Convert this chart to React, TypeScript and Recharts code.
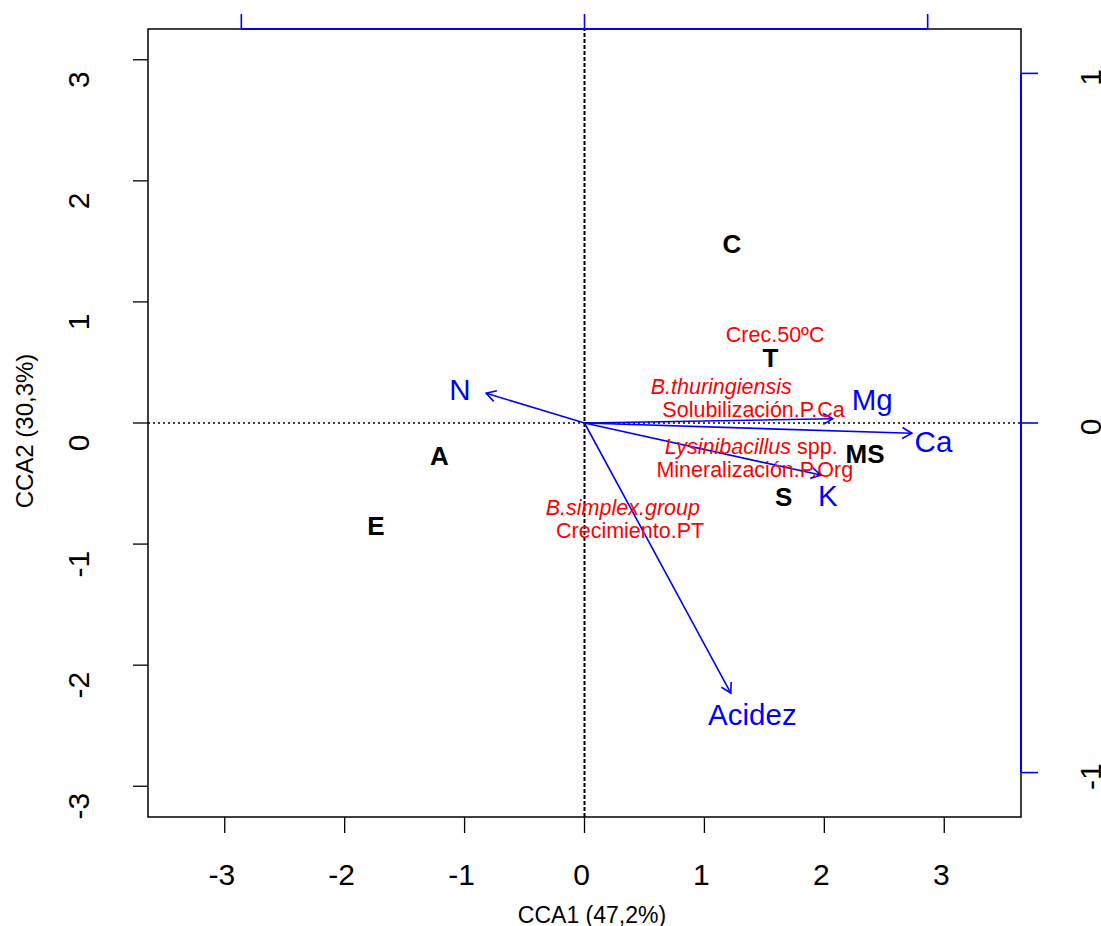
import { ScatterChart, Scatter, XAxis, YAxis, ReferenceLine, ReferenceArea } from "recharts";

// site scores (CCA1, CCA2)
const siteNames = ["C", "T", "MS", "S", "A", "E"];
const siteX = [1.23, 1.55, 2.34, 1.66, -1.21, -1.74];
const siteY = [1.48, 0.54, -0.26, -0.61, -0.27, -0.85];

// species / trait labels (red); italic part is the prefix given in traitItalic
const traitNames = [
  "Crec.50ºC",
  "B.thuringiensis",
  "Solubilización.P.Ca",
  "Lysinibacillus spp.",
  "Mineralización.P.Org",
  "B.simplex.group",
  "Crecimiento.PT",
];
const traitItalic = ["", "B.thuringiensis", "", "Lysinibacillus", "", "B.simplex.group", ""];
const traitX = [1.59, 1.14, 1.41, 1.39, 1.42, 0.32, 0.38];
const traitY = [0.73, 0.3, 0.11, -0.2, -0.39, -0.7, -0.89];

// environmental arrows (tips) and their labels
const envNames = ["N", "Mg", "Ca", "K", "Acidez"];
const envX = [-0.82, 2.07, 2.73, 1.97, 1.22];
const envY = [0.245, 0.035, -0.085, -0.43, -2.23];
const envLabelX = [-1.04, 2.4, 2.91, 2.03, 1.4];
const envLabelY = [0.28, 0.19, -0.15, -0.6, -2.41];

const mainTicks = [-3, -2, -1, 0, 1, 2, 3];
const envTicks = [-1, 0, 1];
const xLimits = [-3.64, 3.64];
const yLimits = [-3.254, 3.254];
const envXLimits = [-1.272, 1.272];
const envYLimits = [-1.127, 1.127];

const FONT = "'Liberation Sans', Arial, Helvetica, sans-serif";
const BLUE = "#0000ff";
const RED = "#ff0000";

const sites = siteNames.map((name, i) => ({ x: siteX[i], y: siteY[i], name }));
const traits = traitNames.map((name, i) => ({ x: traitX[i], y: traitY[i], name, italic: traitItalic[i] }));
const envLabels = envNames.map((name, i) => ({ x: envLabelX[i], y: envLabelY[i], name }));
// invisible anchors so the secondary (biplot) axes own some data
const envFrame = envTicks.map((t) => ({ ex: t, ey: t }));

function Arrow(props: any) {
  const { x1, y1, x2, y2 } = props;
  const ang = Math.atan2(y2 - y1, x2 - x1);
  const len = 11;
  const spread = Math.PI / 6;
  const ax = x2 - len * Math.cos(ang - spread);
  const ay = y2 - len * Math.sin(ang - spread);
  const bx = x2 - len * Math.cos(ang + spread);
  const by = y2 - len * Math.sin(ang + spread);
  return (
    <g>
      <line x1={x1} y1={y1} x2={x2} y2={y2} stroke={BLUE} strokeWidth={1.6} />
      <polyline points={`${ax},${ay} ${x2},${y2} ${bx},${by}`} fill="none" stroke={BLUE} strokeWidth={1.6} />
    </g>
  );
}

const BlueLine = (props: any) => (
  <line x1={props.x1} y1={props.y1} x2={props.x2} y2={props.y2} stroke={BLUE} strokeWidth={2} />
);

const BottomTick = (p: any) => (
  <text x={p.x - 3} y={885} textAnchor="middle" fontSize={30} fontFamily={FONT} fill="#000">
    {p.payload.value}
  </text>
);

const LeftTick = (p: any) => (
  <text
    transform={`translate(89, ${p.y + 20}) rotate(-90)`}
    textAnchor="middle"
    fontSize={30}
    fontFamily={FONT}
    fill="#000"
  >
    {p.payload.value}
  </text>
);

const RightTick = (p: any) => (
  <text
    transform={`translate(1101, ${p.y + 4}) rotate(-90)`}
    textAnchor="middle"
    fontSize={30}
    fontFamily={FONT}
    fill="#000"
  >
    {p.payload.value}
  </text>
);

const EmptyTick = () => <g />;

const SiteLabel = (p: any) => (
  <text x={p.cx} y={p.cy} textAnchor="middle" dominantBaseline="central" fontSize={26} fontWeight="bold" fontFamily={FONT} fill="#000">
    {p.payload.name}
  </text>
);

const TraitLabel = (p: any) => {
  const it = p.payload.italic as string;
  const rest = (p.payload.name as string).slice(it.length);
  return (
    <text x={p.cx} y={p.cy} textAnchor="middle" dominantBaseline="central" fontSize={21.5} fontFamily={FONT} fill={RED}>
      {it ? <tspan fontStyle="italic">{it}</tspan> : null}
      {rest ? <tspan>{rest}</tspan> : null}
    </text>
  );
};

const EnvLabel = (p: any) => (
  <text x={p.cx} y={p.cy} textAnchor="middle" dominantBaseline="central" fontSize={29.5} fontFamily={FONT} fill={BLUE}>
    {p.payload.name}
  </text>
);

export default function App() {
  return (
    <div style={{ position: "absolute", left: 0, top: 0, background: "#fff", fontFamily: FONT }}>
      <ScatterChart width={1101} height={926} margin={{ top: 0, right: 0, bottom: 0, left: 0 }}>
        <XAxis
          xAxisId="b"
          type="number"
          dataKey="x"
          orientation="bottom"
          domain={xLimits}
          ticks={mainTicks}
          allowDataOverflow
          height={109}
          axisLine={false}
          tickSize={16}
          tickLine={{ stroke: "#000", strokeWidth: 1.3 }}
          tick={<BottomTick />}
          label={() => (
            <text x={592} y={923} textAnchor="middle" fontSize={23} fontFamily={FONT} fill="#000">
              CCA1 (47,2%)
            </text>
          )}
        />
        <XAxis
          xAxisId="t"
          type="number"
          dataKey="ex"
          orientation="top"
          domain={envXLimits}
          ticks={envTicks}
          allowDataOverflow
          height={29}
          axisLine={false}
          tickSize={15}
          tickLine={{ stroke: BLUE, strokeWidth: 1.6 }}
          tick={<EmptyTick />}
        />
        <YAxis
          yAxisId="l"
          type="number"
          dataKey="y"
          orientation="left"
          domain={yLimits}
          ticks={mainTicks}
          allowDataOverflow
          width={148}
          axisLine={false}
          tickSize={15}
          tickLine={{ stroke: "#000", strokeWidth: 1.3 }}
          tick={<LeftTick />}
          label={() => (
            <text transform="translate(33, 431) rotate(-90)" textAnchor="middle" fontSize={24} fontFamily={FONT} fill="#000">
              CCA2 (30,3%)
            </text>
          )}
        />
        <YAxis
          yAxisId="r"
          type="number"
          dataKey="ey"
          orientation="right"
          domain={envYLimits}
          ticks={envTicks}
          allowDataOverflow
          width={80}
          axisLine={false}
          tickSize={17}
          tickLine={{ stroke: BLUE, strokeWidth: 1.6 }}
          tick={<RightTick />}
        />

        <ReferenceArea
          xAxisId="b"
          yAxisId="l"
          x1={xLimits[0]}
          x2={xLimits[1]}
          y1={yLimits[0]}
          y2={yLimits[1]}
          fill="none"
          stroke="#000"
          strokeWidth={1.5}
          ifOverflow="visible"
        />
        <ReferenceLine xAxisId="b" yAxisId="l" x={0} stroke="#000" strokeWidth={2} strokeDasharray="4 2" />
        <ReferenceLine xAxisId="b" yAxisId="l" y={0} stroke="#000" strokeWidth={1.4} strokeDasharray="2 3" />

        {envNames.map((n, i) => (
          <ReferenceLine
            key={n}
            xAxisId="b"
            yAxisId="l"
            segment={[
              { x: 0, y: 0 },
              { x: envX[i], y: envY[i] },
            ]}
            shape={<Arrow />}
          />
        ))}

        <ReferenceLine
          xAxisId="t"
          yAxisId="r"
          segment={[
            { x: envTicks[0], y: envYLimits[1] },
            { x: envTicks[2], y: envYLimits[1] },
          ]}
          shape={<BlueLine />}
          ifOverflow="visible"
        />
        <ReferenceLine
          xAxisId="t"
          yAxisId="r"
          segment={[
            { x: envXLimits[1], y: envTicks[0] },
            { x: envXLimits[1], y: envTicks[2] },
          ]}
          shape={<BlueLine />}
          ifOverflow="visible"
        />

        <Scatter xAxisId="t" yAxisId="r" data={envFrame} dataKey="ey" shape={<EmptyTick />} isAnimationActive={false} />
        <Scatter xAxisId="b" yAxisId="l" data={traits} shape={<TraitLabel />} isAnimationActive={false} />
        <Scatter xAxisId="b" yAxisId="l" data={envLabels} shape={<EnvLabel />} isAnimationActive={false} />
        <Scatter xAxisId="b" yAxisId="l" data={sites} shape={<SiteLabel />} isAnimationActive={false} />
      </ScatterChart>
    </div>
  );
}
